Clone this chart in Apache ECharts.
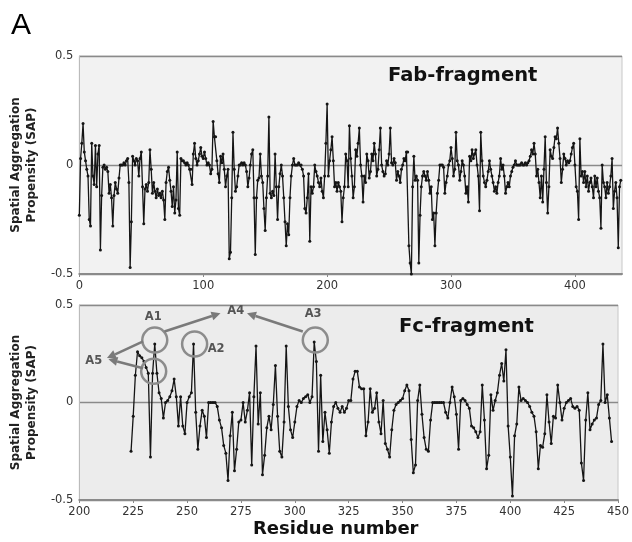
<!DOCTYPE html>
<html><head><meta charset="utf-8">
<script src="https://cdn.jsdelivr.net/npm/echarts@6/dist/echarts.min.js"></script>
<style>html,body{margin:0;padding:0;background:#fff}#c{width:632px;height:542px}</style>
</head><body><div id="c"></div>
<script>
// ---- Data ----
const fabStart = 0;
const fabValues = [
-0.23,0.03,0.10,0.19,0.06,0.02,-0.02,-0.05,-0.25,-0.28,
0.10,-0.05,-0.09,0.09,-0.10,0.05,0.09,-0.39,-0.14,-0.01,
0.00,-0.02,-0.01,-0.03,-0.13,-0.09,-0.15,-0.28,-0.14,-0.08,
-0.11,-0.13,-0.06,0.00,0.00,0.00,0.01,0.00,0.02,0.03,
-0.08,-0.47,-0.26,0.04,0.02,0.00,0.03,0.02,-0.05,0.03,
0.06,-0.10,-0.27,-0.11,-0.09,-0.12,-0.08,0.07,-0.02,-0.13,
-0.08,-0.12,-0.15,-0.11,-0.14,-0.13,-0.15,-0.12,-0.16,-0.25,
-0.08,-0.03,-0.01,-0.07,-0.12,-0.19,-0.10,-0.22,-0.16,0.06,
-0.20,-0.23,0.03,0.02,0.02,0.01,0.00,0.01,0.00,-0.02,
-0.02,-0.09,0.05,0.10,0.03,0.00,0.02,0.05,0.08,0.04,
0.03,0.06,0.03,0.00,0.01,0.00,-0.04,-0.02,0.20,0.13,
0.13,0.02,-0.04,-0.08,0.04,0.01,0.05,-0.02,-0.10,-0.05,
-0.02,-0.43,-0.40,-0.15,0.15,-0.02,-0.12,-0.10,-0.05,0.00,
0.00,0.01,0.00,0.01,0.00,-0.03,-0.10,-0.06,0.00,0.05,
0.07,-0.15,-0.41,-0.15,-0.07,-0.06,0.05,-0.05,-0.08,-0.20,
-0.30,-0.15,-0.05,0.22,-0.13,-0.15,-0.12,-0.14,0.05,-0.10,
-0.25,-0.10,-0.04,0.00,-0.05,-0.15,-0.26,-0.37,-0.27,-0.32,
-0.15,-0.05,0.00,0.03,0.00,0.00,0.00,0.01,0.00,0.00,
-0.02,-0.05,-0.20,-0.22,-0.15,-0.04,-0.35,-0.10,-0.13,-0.10,
0.00,-0.03,-0.05,-0.08,-0.10,-0.06,-0.12,-0.15,-0.05,0.10,
0.28,-0.05,0.02,0.07,0.13,0.02,-0.10,-0.08,-0.12,-0.08,
-0.10,-0.12,-0.26,-0.15,-0.10,0.05,0.02,-0.10,0.18,0.03,
-0.05,-0.15,-0.10,0.07,0.04,0.10,0.17,0.00,-0.05,-0.17,
-0.05,-0.08,0.05,0.02,-0.06,-0.03,0.05,0.02,0.10,0.05,
-0.05,-0.02,0.07,0.17,0.00,-0.03,-0.05,-0.04,0.02,0.00,
0.05,0.17,0.01,0.00,0.03,0.01,-0.07,-0.03,-0.05,-0.08,
-0.02,0.00,0.03,0.02,0.06,0.06,-0.37,-0.45,-0.50,-0.10,
0.04,-0.07,-0.05,-0.07,-0.45,-0.23,-0.10,-0.05,-0.03,-0.05,
-0.07,-0.03,-0.07,-0.13,-0.10,-0.25,-0.22,-0.37,-0.22,-0.13,
-0.07,0.00,0.00,0.00,-0.01,-0.13,-0.08,-0.05,0.00,0.02,
0.08,0.03,-0.05,-0.02,0.15,0.02,0.00,-0.07,-0.03,0.02,
0.00,-0.05,-0.13,-0.10,-0.17,0.04,0.02,0.07,0.03,0.05,
0.07,0.00,-0.05,-0.21,0.15,0.02,-0.05,-0.08,-0.10,-0.07,
-0.03,0.02,-0.02,-0.05,-0.08,-0.12,-0.10,-0.13,-0.08,-0.05,
0.03,-0.02,0.00,-0.05,-0.13,-0.10,-0.08,-0.10,-0.05,-0.03,
-0.01,0.00,0.02,0.00,0.00,0.00,0.00,0.01,0.00,0.00,
0.01,0.00,0.01,0.02,0.04,0.07,0.05,0.10,0.05,-0.05,
-0.02,-0.08,-0.15,-0.05,-0.17,-0.02,0.13,-0.08,-0.22,-0.10,
0.07,0.04,0.03,0.08,0.13,0.12,0.17,0.10,0.03,-0.08,
-0.02,0.05,0.03,0.00,0.02,0.01,0.02,0.05,0.08,0.10,
0.00,-0.10,-0.12,-0.25,0.12,-0.05,-0.03,-0.08,-0.03,-0.10,
-0.05,-0.12,-0.08,-0.06,-0.10,-0.15,-0.05,-0.10,-0.06,-0.12,
-0.15,-0.29,0.00,-0.08,-0.10,-0.15,-0.08,-0.13,-0.10,-0.05,
0.03,-0.20,-0.12,-0.08,-0.15,-0.38,-0.10,-0.07
];
const fcStart = 224;
const fcValues = [
-0.25,-0.07,0.14,0.26,0.24,0.23,0.21,0.18,0.15,-0.28,
0.15,0.30,0.15,0.05,0.02,-0.08,0.00,0.01,0.03,0.06,
0.12,0.03,-0.12,0.03,-0.12,-0.16,0.00,0.03,0.05,0.30,
-0.05,-0.24,-0.12,-0.04,-0.07,-0.18,0.00,0.00,0.00,0.00,
-0.02,-0.09,-0.13,-0.22,-0.26,-0.40,-0.17,-0.05,-0.35,-0.24,
-0.10,-0.09,0.00,-0.10,-0.04,0.05,-0.32,0.03,0.29,-0.11,
0.05,-0.37,-0.27,-0.13,-0.07,-0.14,-0.01,0.19,-0.07,-0.25,
-0.28,-0.10,0.29,-0.02,-0.14,-0.18,-0.10,-0.02,0.01,0.00,
0.02,0.03,0.04,0.00,0.03,0.31,0.21,-0.25,0.14,-0.20,
-0.05,-0.14,-0.26,-0.10,-0.02,0.00,-0.03,-0.05,-0.02,-0.05,
-0.03,0.01,0.01,0.12,0.16,0.16,0.08,0.07,0.07,-0.17,
-0.10,0.07,-0.05,-0.03,0.05,-0.10,-0.16,0.01,-0.21,-0.24,
-0.28,-0.14,-0.04,-0.01,0.00,0.01,0.02,0.06,0.09,0.06,
-0.19,-0.36,-0.32,0.01,0.09,-0.06,-0.18,-0.24,-0.25,-0.09,
0.00,0.00,0.00,0.00,0.00,0.00,-0.05,-0.08,0.00,0.08,
0.03,-0.06,-0.24,0.01,0.02,0.01,-0.01,-0.03,-0.12,-0.13,
-0.15,-0.18,-0.15,0.09,-0.09,-0.34,-0.27,0.04,-0.04,0.01,
0.05,0.14,0.20,0.11,0.27,-0.12,-0.28,-0.48,-0.17,-0.11,
0.08,0.01,0.02,0.01,0.00,-0.02,-0.05,-0.07,-0.15,-0.34,
-0.22,-0.23,-0.16,0.04,-0.10,-0.21,-0.07,-0.08,0.09,0.00,
-0.09,-0.03,0.00,0.01,0.02,-0.02,-0.03,-0.02,-0.04,-0.31,
-0.40,-0.09,0.05,-0.14,-0.11,-0.09,-0.08,-0.01,0.01,0.30,
0.00,0.04,-0.08,-0.20
];
const yTicks = [-0.5, 0, 0.5];
const fabXTicks = [0, 100, 200, 300, 400];
const fcXTicks = [200, 225, 250, 275, 300, 325, 350, 375, 400, 425, 450];
const yName = 'Spatial Aggregation\nPropensity (SAP)';
const panelTitles = ['Fab-fragment', 'Fc-fragment'];
const xTitle = 'Residue number';
// annotation anchors (residue, SAP) in Fc panel
const circles = [[235, 0.32], [234.5, 0.16], [253.5, 0.30], [309.5, 0.32]];
const annLabels = [['A1', 234.3, 0.44], ['A2', 263.5, 0.274], ['A3', 308.5, 0.455], ['A4', 272.6, 0.468], ['A5', 206.7, 0.214]];
const arrows = [
  [[239.5, 0.364], [265.5, 0.458]],
  [[303.7, 0.364], [277.8, 0.458]],
  [[229.6, 0.313], [212.8, 0.228]],
  [[229.6, 0.176], [213.5, 0.222]]
];

const FONT = 'DejaVu Sans';
const fabData = fabValues.map((v, i) => [fabStart + i, v]);
const fcData = fcValues.map((v, i) => [fcStart + i, v]);

function xAxisCfg(idx, min, max, interval) {
  return {
    type: 'value', gridIndex: idx, min: min, max: max, interval: interval,
    axisLine: { show: true, onZero: false, lineStyle: { color: '#8a8a8a', width: 2 } },
    axisTick: { show: true, length: 3, lineStyle: { color: '#8a8a8a' } },
    axisLabel: { color: '#333', fontSize: 11.5, fontFamily: FONT, margin: 6, showMaxLabel: max % interval === 0 },
    splitLine: { show: false }
  };
}
function yAxisCfg(idx) {
  return {
    type: 'value', gridIndex: idx, min: -0.5, max: 0.5, interval: 0.5,
    name: yName, nameLocation: 'middle', nameGap: 27, nameRotate: 90,
    nameTextStyle: { fontFamily: FONT, fontWeight: 'bold', fontSize: 12, color: '#222', lineHeight: 16 },
    axisLine: { show: true, lineStyle: { color: '#bbb', width: 1 } },
    axisTick: { show: false },
    axisLabel: { color: '#333', fontSize: 11.5, fontFamily: FONT, margin: 6, formatter: v => String(v) },
    splitLine: { show: true, lineStyle: { color: '#8a8a8a', width: 1.3 } }
  };
}
const lineStyle = { color: '#151515', width: 1.3 };
const chart = echarts.init(document.getElementById('c'), null, { renderer: 'canvas' });
chart.setOption({
  backgroundColor: '#fff',
  animation: false,
  title: [
    { text: 'A', left: 6, top: 6, textStyle: { fontFamily: 'Liberation Sans', fontWeight: 'normal', fontSize: 30, color: '#000' } },
    { text: panelTitles[0], left: 383, top: 61, textStyle: { fontFamily: FONT, fontWeight: 'bold', fontSize: 19.5, color: '#111' } },
    { text: panelTitles[1], left: 394, top: 312, textStyle: { fontFamily: FONT, fontWeight: 'bold', fontSize: 19.5, color: '#111' } },
    { text: xTitle, left: 248, top: 515, textStyle: { fontFamily: FONT, fontWeight: 'bold', fontSize: 18, color: '#111' } }
  ],
  grid: [
    { left: 75, right: 10, top: 56, height: 218, show: true, backgroundColor: '#f2f2f2', borderColor: '#c8c8c8', borderWidth: 1 },
    { left: 76, right: 11, top: 305, height: 195, show: true, backgroundColor: '#ececec', borderColor: '#c8c8c8', borderWidth: 1 }
  ],
  xAxis: [xAxisCfg(0, 0, 438, 100), xAxisCfg(1, 200, 450, 25)],
  yAxis: [yAxisCfg(0), yAxisCfg(1)],
  series: [
    { type: 'line', xAxisIndex: 0, yAxisIndex: 0, data: fabData, symbol: 'circle', symbolSize: 3, showSymbol: true,
      lineStyle: lineStyle, itemStyle: { color: '#151515' } },
    { type: 'line', xAxisIndex: 1, yAxisIndex: 1, data: fcData, symbol: 'circle', symbolSize: 3, showSymbol: true,
      lineStyle: lineStyle, itemStyle: { color: '#151515' } }
  ]
});

function px(p) { return chart.convertToPixel({ gridIndex: 1 }, p); }
const gColor = '#7a7a7a';
const elements = [];
circles.forEach(c => {
  const p = px(c);
  elements.push({ type: 'circle', shape: { cx: p[0], cy: p[1], r: 12.5 }, style: { fill: 'none', stroke: '#8c8c8c', lineWidth: 2.5 }, z: 100 });
});
arrows.forEach(a => {
  const p1 = px(a[0]), p2 = px(a[1]);
  const dx = p2[0] - p1[0], dy = p2[1] - p1[1];
  const L = Math.sqrt(dx * dx + dy * dy), ux = dx / L, uy = dy / L;
  const hl = 9, hw = 4.5;
  const bx = p2[0] - ux * hl, by = p2[1] - uy * hl;
  elements.push({ type: 'line', shape: { x1: p1[0], y1: p1[1], x2: bx, y2: by }, style: { stroke: gColor, lineWidth: 2.5 }, z: 100 });
  elements.push({ type: 'polygon', shape: { points: [[p2[0], p2[1]], [bx - uy * hw, by + ux * hw], [bx + uy * hw, by - ux * hw]] }, style: { fill: gColor }, z: 100 });
});
annLabels.forEach(l => {
  const p = px([l[1], l[2]]);
  elements.push({ type: 'text', x: p[0], y: p[1], style: { text: l[0], fill: '#555', font: 'bold 11.5px "DejaVu Sans"', align: 'center', verticalAlign: 'middle' }, z: 101 });
});
chart.setOption({ graphic: elements });
</script>
</body></html>
